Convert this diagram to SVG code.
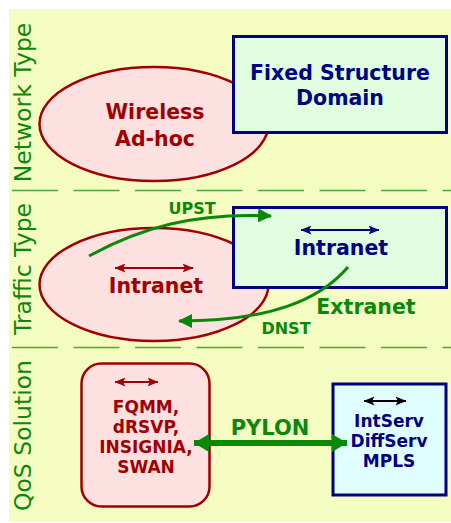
<svg xmlns="http://www.w3.org/2000/svg" width="451" height="523" viewBox="0 0 451 523">
<style>
.bg{fill:#f5fcc2}
.sep{stroke:#4ca83c;stroke-width:1.5;stroke-dasharray:46 15.5;fill:none}
.lab{font-family:"DejaVu Sans",Verdana,sans-serif;font-size:23.5px;fill:#0a880a;text-anchor:middle}
.ell{fill:#fde0e0;stroke:#a00000;stroke-width:2.5}
.box{fill:#e0fde0;stroke:#000080;stroke-width:3}
.box2{fill:#e0feff;stroke:#000080;stroke-width:3}
.t{font-family:"DejaVu Sans",Verdana,sans-serif;font-weight:bold;text-anchor:middle}
.red{fill:#a00000}
.navy{fill:#000080}
.grn{fill:#0a880a}
.cur{fill:none;stroke:#0a880a;stroke-width:3}
</style>
<defs>
<marker id="hR" viewBox="0 0 11 9" refX="10.5" refY="4.5" markerWidth="11" markerHeight="9" markerUnits="userSpaceOnUse" orient="auto-start-reverse"><path d="M0,0 L11,4.5 L0,9 L2.5,4.5 z" fill="#a00000"/></marker>
<marker id="hB" viewBox="0 0 11 9" refX="10.5" refY="4.5" markerWidth="11" markerHeight="9" markerUnits="userSpaceOnUse" orient="auto-start-reverse"><path d="M0,0 L11,4.5 L0,9 L2.5,4.5 z" fill="#000080"/></marker>
<marker id="hK" viewBox="0 0 11 9" refX="10.5" refY="4.5" markerWidth="11" markerHeight="9" markerUnits="userSpaceOnUse" orient="auto-start-reverse"><path d="M0,0 L11,4.5 L0,9 L2.5,4.5 z" fill="#000000"/></marker>
<marker id="hG" viewBox="0 0 14 14" refX="13" refY="7" markerWidth="14" markerHeight="14" markerUnits="userSpaceOnUse" orient="auto-start-reverse"><path d="M0,0 L14,7 L0,14 z" fill="#0a880a"/></marker>
<marker id="hP" viewBox="0 0 15 18" refX="15" refY="9" markerWidth="15" markerHeight="18" markerUnits="userSpaceOnUse" orient="auto-start-reverse"><path d="M0,0 L15,9 L0,18 z" fill="#0a880a"/></marker>
</defs>
<rect class="bg" x="9" y="9" width="442" height="513"/>
<line class="sep" x1="12" y1="190.5" x2="451" y2="190.5"/>
<line class="sep" x1="12" y1="347.5" x2="451" y2="347.5"/>
<text class="lab" transform="translate(31,102.5) rotate(-90)">Network Type</text>
<text class="lab" transform="translate(31,269) rotate(-90)">Traffic Type</text>
<text class="lab" transform="translate(31,435.5) rotate(-90)">QoS Solution</text>

<g id="wireless-adhoc">
<ellipse class="ell" cx="154" cy="124" rx="114.5" ry="57"/>
<text class="t red" x="155" y="119" font-size="20.5">Wireless</text>
<text class="t red" x="155" y="146" font-size="20.5">Ad-hoc</text>
</g>
<g id="fixed-structure">
<rect class="box" x="233.5" y="36.5" width="213" height="96"/>
<text class="t navy" x="340" y="80" font-size="20.5">Fixed Structure</text>
<text class="t navy" x="340" y="105" font-size="20.5">Domain</text>
</g>

<g id="intranet-adhoc">
<ellipse class="ell" cx="154" cy="284.5" rx="114.5" ry="56.5"/>
<line x1="115" y1="268" x2="193" y2="268" stroke="#a00000" stroke-width="2" marker-start="url(#hR)" marker-end="url(#hR)"/>
<text class="t red" x="156" y="293" font-size="20.5">Intranet</text>
</g>
<g id="intranet-fixed">
<rect class="box" x="233.5" y="207.5" width="213" height="80"/>
<line x1="301" y1="230" x2="379" y2="230" stroke="#000080" stroke-width="2" marker-start="url(#hB)" marker-end="url(#hB)"/>
<text class="t navy" x="341" y="255" font-size="20.5">Intranet</text>
</g>

<g id="qos-adhoc">
<rect x="81.5" y="363.5" width="128" height="143" rx="20" fill="#fde0e0" stroke="#a00000" stroke-width="2.5"/>
<line x1="115" y1="382" x2="158" y2="382" stroke="#a00000" stroke-width="2" marker-start="url(#hR)" marker-end="url(#hR)"/>
<text class="t red" font-size="17"><tspan x="146" y="413">FQMM,</tspan><tspan x="146" y="433">dRSVP,</tspan><tspan x="146" y="453">INSIGNIA,</tspan><tspan x="146" y="473">SWAN</tspan></text>
</g>
<g id="qos-fixed">
<rect class="box2" x="333" y="384" width="113" height="111"/>
<line x1="364" y1="401" x2="406" y2="401" stroke="#000000" stroke-width="2" marker-start="url(#hK)" marker-end="url(#hK)"/>
<text class="t navy" font-size="17"><tspan x="389" y="427">IntServ</tspan><tspan x="389" y="447">DiffServ</tspan><tspan x="389" y="467">MPLS</tspan></text>
</g>

<g id="connectors">
<path class="cur" d="M89,256 C140,228 195,212 271,216" marker-end="url(#hG)"/>
<text class="t grn" x="192" y="214" font-size="16">UPST</text>
<path class="cur" d="M348,267 C320,300 270,321 179,321" marker-end="url(#hG)"/>
<text class="t grn" x="286" y="334" font-size="16">DNST</text>
<text class="t grn" x="366" y="314" font-size="20.5">Extranet</text>
<line x1="194" y1="443" x2="347" y2="443" stroke="#0a880a" stroke-width="6" marker-start="url(#hP)" marker-end="url(#hP)"/>
<text class="t grn" x="270" y="435" font-size="21">PYLON</text>
</g>
</svg>
